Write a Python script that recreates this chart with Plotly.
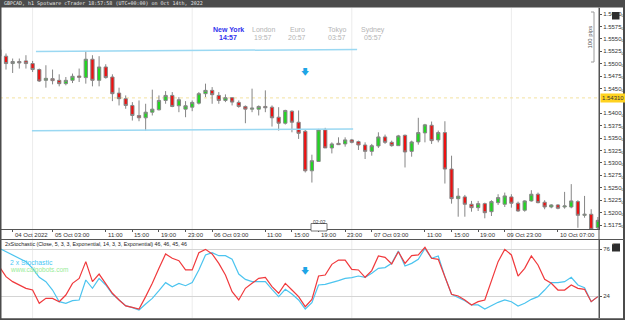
import plotly.graph_objects as go

# ---------------- data (hourly bars, weekend gap removed; bar -1 is cut at left edge)
bars = list(range(-1, 90))
opens = [1.55281, 1.55150, 1.55002, 1.55043, 1.55055, 1.55002, 1.54881, 1.54664, 1.54698, 1.54664, 1.54597,
         1.54664, 1.54751, 1.54719, 1.55089, 1.54664, 1.54933, 1.54731, 1.54407, 1.54294, 1.54158,
         1.53956, 1.53909, 1.54022, 1.54071, 1.54259, 1.54360, 1.54152, 1.54083, 1.54123, 1.54204,
         1.54395, 1.54462, 1.54360, 1.54259, 1.54314, 1.54219, 1.54138, 1.54083, 1.54083, 1.54138,
         1.54123, 1.53921, 1.53800, 1.54043, 1.53820, 1.53638, 1.52842, 1.53030, 1.53666, 1.53302,
         1.53395, 1.53383, 1.53464, 1.53429, 1.53362, 1.53233, 1.53342, 1.53524, 1.53415, 1.53348,
         1.53557, 1.53233, 1.53423, 1.53605, 1.53759, 1.53464, 1.53611, 1.52877, 1.52281, 1.52316,
         1.52168, 1.52099, 1.52180, 1.52018, 1.52200, 1.52168, 1.52316, 1.52188, 1.52047, 1.52235,
         1.52370, 1.52209, 1.52113, 1.52154, 1.52113, 1.52113, 1.52221, 1.51945, 1.51966, 1.51694]
highs = [1.55332, 1.55204, 1.55103, 1.55103, 1.55170, 1.55055, 1.54901, 1.54968, 1.54881, 1.54785, 1.54731,
         1.54800, 1.54901, 1.55251, 1.55170, 1.55150, 1.54988, 1.54785, 1.54516, 1.54360, 1.54225,
         1.54259, 1.54192, 1.54476, 1.54360, 1.54447, 1.54427, 1.54326, 1.54245, 1.54259, 1.54427,
         1.54597, 1.54528, 1.54427, 1.54381, 1.54326, 1.54259, 1.54158, 1.54496, 1.54158, 1.54462,
         1.54158, 1.54123, 1.54071, 1.54057, 1.54057, 1.53666, 1.53166, 1.53686, 1.53707, 1.53415,
         1.53516, 1.53516, 1.53484, 1.53449, 1.53415, 1.53383, 1.53617, 1.53571, 1.53449, 1.53565,
         1.53571, 1.53449, 1.53909, 1.53787, 1.53834, 1.53652, 1.53840, 1.53146, 1.52492, 1.52356,
         1.52235, 1.52235, 1.52200, 1.52249, 1.52370, 1.52403, 1.52370, 1.52221, 1.52249, 1.52451,
         1.52403, 1.52249, 1.52168, 1.52168, 1.52417, 1.52573, 1.52249, 1.52336, 1.52067, 1.51911]
lows = [1.55110, 1.54881, 1.54812, 1.54901, 1.54901, 1.54832, 1.54630, 1.54516, 1.54583, 1.54543, 1.54563,
        1.54609, 1.54630, 1.54597, 1.54543, 1.54543, 1.54698, 1.54245, 1.54158, 1.54091, 1.53854,
        1.53840, 1.53652, 1.53956, 1.54057, 1.54192, 1.54123, 1.54022, 1.53921, 1.54043, 1.54178,
        1.54326, 1.54192, 1.54192, 1.54225, 1.54158, 1.54111, 1.53800, 1.54022, 1.53956, 1.54022,
        1.53733, 1.53652, 1.53773, 1.53617, 1.53484, 1.52808, 1.52605, 1.53030, 1.53302, 1.53192,
        1.53368, 1.53328, 1.53395, 1.53261, 1.53079, 1.53146, 1.53302, 1.53383, 1.53328, 1.53342,
        1.52909, 1.53126, 1.53368, 1.53415, 1.53383, 1.53415, 1.52585, 1.52180, 1.51917, 1.51917,
        1.52018, 1.52032, 1.51885, 1.51931, 1.52154, 1.52113, 1.52099, 1.52018, 1.52018, 1.52221,
        1.52188, 1.52067, 1.52087, 1.52067, 1.52079, 1.52087, 1.51694, 1.51897, 1.51628, 1.51648]
closes = [1.55150, 1.55002, 1.55043, 1.55014, 1.55002, 1.54881, 1.54650, 1.54704, 1.54658, 1.54597, 1.54664,
          1.54745, 1.54725, 1.55089, 1.54664, 1.54933, 1.54719, 1.54395, 1.54294, 1.54158, 1.53956,
          1.53909, 1.54022, 1.54083, 1.54259, 1.54360, 1.54138, 1.54273, 1.54152, 1.54219, 1.54395,
          1.54462, 1.54375, 1.54259, 1.54314, 1.54225, 1.54138, 1.54083, 1.54103, 1.54138, 1.54111,
          1.53909, 1.53800, 1.54057, 1.53820, 1.53597, 1.52842, 1.53045, 1.53666, 1.53302, 1.53383,
          1.53368, 1.53464, 1.53415, 1.53362, 1.53233, 1.53348, 1.53524, 1.53415, 1.53348, 1.53545,
          1.53221, 1.53423, 1.53611, 1.53767, 1.53449, 1.53611, 1.52877, 1.52281, 1.52330, 1.52168,
          1.52099, 1.52180, 1.51998, 1.52221, 1.52302, 1.52336, 1.52188, 1.52032, 1.52235, 1.52370,
          1.52200, 1.52113, 1.52154, 1.52087, 1.52134, 1.52235, 1.51945, 1.51966, 1.51662, 1.51844]

stoch_fast = [56.5, 45.4, 39.9, 36.2, 32.5, 30.6, 15.9, 21.4, 21.4, 17.7, 25.1, 38.0, 43.5, 62.0, 39.9, 48.3,
              38.0, 27.0, 19.6, 13.0, 11.5, 9.6, 23.3, 38.0, 54.6, 70.5, 65.7, 63.1, 52.8, 52.8, 71.9,
              75.6, 70.5, 60.1, 47.2, 28.8, 19.6, 32.5, 38.0, 43.5, 44.7, 34.3, 27.0, 38.0, 30.6, 23.3,
              12.2, 20.3, 46.1, 47.2, 59.0, 63.8, 63.8, 53.5, 52.8, 44.7, 52.1, 68.3, 66.8, 59.4, 73.0,
              60.1, 68.6, 69.4, 77.8, 65.7, 64.6, 45.4, 25.9, 24.0, 19.6, 14.1, 17.7, 19.6, 39.9, 62.0,
              75.6, 69.4, 46.1, 54.6, 68.3, 58.3, 42.4, 38.0, 30.6, 30.6, 36.2, 32.5, 31.4, 17.7, 23.3]
stoch_slow = [76.7, 73.0, 69.4, 65.7, 62.0, 54.6, 44.7, 39.9, 30.6, 17.7, 15.9, 18.8, 19.6, 41.7, 32.5, 43.5,
              36.2, 26.2, 19.6, 13.3, 11.1, 8.5, 15.2, 21.4, 29.9, 38.8, 34.3, 38.0, 35.4, 38.8, 52.8,
              69.4, 71.9, 68.6, 68.6, 64.6, 48.3, 42.4, 39.9, 39.9, 39.9, 31.4, 23.3, 31.4, 26.2, 19.6,
              9.6, 16.6, 36.2, 36.9, 38.8, 41.0, 43.5, 44.3, 46.1, 44.7, 49.1, 54.6, 55.4, 60.1, 73.8,
              57.2, 60.1, 64.6, 76.7, 65.7, 68.3, 45.4, 25.9, 22.5, 18.8, 14.1, 14.1, 9.6, 13.3, 17.0,
              19.6, 17.7, 12.9, 15.9, 20.3, 23.3, 30.6, 38.8, 38.8, 39.9, 44.7, 36.2, 33.2, 17.7, 23.3]

tick_bars = [1, 7, 15, 19, 23, 27, 31, 39, 43, 47, 51, 55, 63, 67, 71, 75, 83]
tick_labels = ["04 Oct 2022", "05 Oct 03:00", "11:00", "15:00", "19:00", "23:00", "06 Oct 03:00",
               "11:00", "15:00", "19:00", "23:00", "07 Oct 03:00", "11:00", "15:00", "19:00",
               "09 Oct 23:00", "10 Oct 07:00"]
day_sep_bars = [4, 28, 52, 76]
# 1.5425 sits behind the current-price label in the reference
price_ticks = [1.5175, 1.5200, 1.5225, 1.5250, 1.5275, 1.5300, 1.5325, 1.5350, 1.5375, 1.5400,
               1.5450, 1.5475, 1.5500, 1.5525, 1.5550, 1.5575, 1.5600]
stoch_levels = [24, 76]
current_price = 1.54310
session_high_x = [4.5, 52.8]
session_high_y = [1.55245, 1.55285]
session_low_x = [3.9, 52.2]
session_low_y = [1.53646, 1.53686]
signal_bar = [45]
signal_price = [1.54806]
signal_stoch = [50.9]
sessions = ["New York", "London", "Euro", "Tokyo", "Sydney"]
session_times = ["14:57", "19:57", "20:57", "03:57", "05:57"]

# ---------------- layout helpers (pixel -> paper)
W, H = 625, 320
ML, MR, MT, MB = 0, 26, 8, 2
PW, PH = W - ML - MR, H - MT - MB


def px(x):
    return (x - ML) / PW


def py(y):
    return (H - MB - y) / PH


FONT = "Liberation Sans"
GRID = "#555555"

fig = go.Figure()

fig.add_trace(go.Candlestick(
    x=bars, open=opens, high=highs, low=lows, close=closes,
    increasing=dict(fillcolor="#1fd81f", line=dict(color="#868686", width=1)),
    decreasing=dict(fillcolor="#ee1111", line=dict(color="#868686", width=1)),
    whiskerwidth=0, hoverinfo="skip", xaxis="x", yaxis="y", showlegend=False))

for sx, sy in ((session_high_x, session_high_y), (session_low_x, session_low_y)):
    fig.add_trace(go.Scatter(x=sx, y=sy, mode="lines", line=dict(color="#9ad8f2", width=1.5),
                             hoverinfo="skip", showlegend=False, xaxis="x", yaxis="y"))

fig.add_trace(go.Scatter(x=bars, y=stoch_slow, mode="lines", line=dict(color="#4cc4ef", width=1.2),
                         hoverinfo="skip", showlegend=False, xaxis="x2", yaxis="y2"))
fig.add_trace(go.Scatter(x=bars, y=stoch_fast, mode="lines", line=dict(color="#f0393c", width=1.2),
                         hoverinfo="skip", showlegend=False, xaxis="x2", yaxis="y2"))

fig.add_trace(go.Scatter(x=signal_bar, y=signal_price, mode="text", text=["🡇"],
                         textfont=dict(size=8, color="#1ea5e6", family="DejaVu Sans"),
                         hoverinfo="skip", showlegend=False, xaxis="x", yaxis="y"))
fig.add_trace(go.Scatter(x=signal_bar, y=signal_stoch, mode="text", text=["🡇"],
                         textfont=dict(size=8, color="#1ea5e6", family="DejaVu Sans"),
                         hoverinfo="skip", showlegend=False, xaxis="x2", yaxis="y2"))

xr = [(0 - 6) / 6.65, (599 - 6) / 6.65]
main_dom = [py(229), 1]
low_dom = [0, py(240)]


def lin(a_px, b_px, va, vb, p):
    return va + (vb - va) * (p - a_px) / (b_px - a_px)


yr_main = [lin(14, 225, 1.5600, 1.5175, 229), lin(14, 225, 1.5600, 1.5175, 8)]
yr_low = [lin(249, 296, 76, 24, 318), lin(249, 296, 76, 24, 240)]

fig.update_layout(
    width=W, height=H, margin=dict(l=ML, r=MR, t=MT, b=MB),
    paper_bgcolor="white", plot_bgcolor="white",
    font=dict(family=FONT, size=6, color="#333333"),
    boxgap=0.3,
    xaxis=dict(domain=[0, 1], range=xr, rangeslider=dict(visible=False), anchor="y",
               tickvals=tick_bars, showticklabels=False, ticks="outside", ticklen=2,
               tickcolor=GRID, showline=True, linecolor=GRID, linewidth=1,
               showgrid=False, zeroline=False),
    xaxis2=dict(domain=[0, 1], range=xr, anchor="y2", matches="x", showticklabels=False,
                ticks="", showgrid=False, zeroline=False, showline=False),
    yaxis=dict(domain=main_dom, range=yr_main, side="right", anchor="x",
               tickvals=price_ticks, ticktext=[f"{v:.4f}<sub>0</sub>" for v in price_ticks],
               ticks="outside", ticklen=2, tickcolor=GRID, tickfont=dict(size=6, color="#333"),
               showgrid=False, zeroline=False, showline=True, linecolor=GRID),
    yaxis2=dict(domain=low_dom, range=yr_low, side="right", anchor="x2",
                tickvals=stoch_levels, ticktext=[str(v) for v in stoch_levels],
                ticks="outside", ticklen=2, tickcolor=GRID, tickfont=dict(size=6, color="#333"),
                showgrid=True, gridcolor="#d4d4d4", gridwidth=1, zeroline=False,
                showline=True, linecolor=GRID),
)

shapes = []
for b in day_sep_bars:
    shapes.append(dict(type="line", xref="x", yref="paper", x0=b, x1=b, y0=0, y1=1,
                       line=dict(color="#ececec", width=1), layer="below"))
shapes.append(dict(type="line", xref="paper", yref="y", x0=0, x1=1, y0=current_price, y1=current_price,
                   line=dict(color="#f3e2a0", width=1, dash="dot"), layer="below"))
DARK = "#4b4b4b"
shapes += [
    dict(type="rect", xref="paper", yref="paper", x0=px(0), x1=px(W), y0=py(7.5), y1=py(0),
         fillcolor=DARK, line=dict(width=0)),
    dict(type="rect", xref="paper", yref="paper", x0=px(0), x1=px(1.5), y0=py(H), y1=py(0),
         fillcolor=DARK, line=dict(width=0)),
    dict(type="rect", xref="paper", yref="paper", x0=px(623), x1=px(W), y0=py(H), y1=py(0),
         fillcolor=DARK, line=dict(width=0)),
    dict(type="rect", xref="paper", yref="paper", x0=px(0), x1=px(W), y0=py(H), y1=py(318.3),
         fillcolor=DARK, line=dict(width=0)),
    dict(type="line", xref="paper", yref="paper", x0=px(0), x1=px(W), y0=py(239.5), y1=py(239.5),
         line=dict(color=GRID, width=1)),
    dict(type="line", xref="paper", yref="paper", x0=1, x1=1, y0=py(318), y1=py(7.5),
         line=dict(color=GRID, width=1)),
    dict(type="path", xref="paper", yref="paper",
         path=f"M {px(591)},{py(12)} L {px(594)},{py(12)} L {px(594)},{py(62)} L {px(591)},{py(62)}",
         line=dict(color="#9a9a9a", width=1)),
    dict(type="rect", xref="paper", yref="paper", x0=px(612), x1=px(619.5), y0=py(19.5), y1=py(12),
         fillcolor="#2e2e2e", line=dict(width=0)),
    dict(type="rect", xref="paper", yref="paper", x0=px(612), x1=px(620), y0=py(251.5), y1=py(243.5),
         fillcolor="#2e2e2e", line=dict(width=0)),
    dict(type="rect", xref="paper", yref="paper", x0=px(311), x1=px(327), y0=py(231), y1=py(223.5),
         fillcolor="white", line=dict(color="#555", width=0.8)),
]
fig.update_layout(shapes=shapes)

ann = []
ann.append(dict(xref="paper", yref="paper", x=px(2), y=py(4), xanchor="left", yanchor="middle",
                text="GBPCAD, h1 Spotware cTrader 18:57:58 (UTC+00:00) on Oct 14th, 2022",
                showarrow=False, font=dict(size=5.0, color="#e6e6e6", family="DejaVu Sans Mono")))
sess_x = [228, 263, 297, 337, 373]
for i, (s, t) in enumerate(zip(sessions, session_times)):
    col = "#3232ee" if i == 0 else "#b4b4b4"
    txt_s = f"<b>{s}</b>" if i == 0 else s
    txt_t = f"<b>{t}</b>" if i == 0 else t
    ann.append(dict(xref="paper", yref="paper", x=px(sess_x[i]), y=py(30), text=txt_s, showarrow=False,
                    xanchor="center", yanchor="middle", font=dict(size=7, color=col)))
    ann.append(dict(xref="paper", yref="paper", x=px(sess_x[i]), y=py(37.5), text=txt_t, showarrow=False,
                    xanchor="center", yanchor="middle", font=dict(size=7, color=col)))
for b, lab in zip(tick_bars, tick_labels):
    ann.append(dict(xref="x", yref="paper", x=b, y=py(234.5), text=lab, showarrow=False,
                    xanchor="left", yanchor="middle", font=dict(size=6, color="#333")))
ann.append(dict(xref="paper", yref="y", x=1, y=current_price, text="1.54310", showarrow=False,
                xanchor="left", yanchor="middle", xshift=1, bgcolor="#ffd21f", borderpad=1,
                font=dict(size=6, color="#333")))
ann.append(dict(xref="paper", yref="paper", x=px(589.5), y=py(37), text="100 pips", textangle=-90,
                showarrow=False, xanchor="center", yanchor="middle", font=dict(size=6, color="#555")))
ann.append(dict(xref="paper", yref="paper", x=px(615.8), y=py(15.8), text="✎", showarrow=False,
                font=dict(size=6, color="white", family="DejaVu Sans")))
ann.append(dict(xref="paper", yref="paper", x=px(616), y=py(247.5), text="✕", showarrow=False,
                font=dict(size=6, color="white", family="DejaVu Sans")))
ann.append(dict(xref="paper", yref="paper", x=px(319), y=py(227.3), text="02:02", showarrow=False,
                font=dict(size=5, color="#333")))
ann.append(dict(xref="paper", yref="paper", x=px(3), y=py(244), xanchor="left", yanchor="middle",
                text="2xStochastic (Close, 5, 3, 3, Exponential, 14, 3, 3, Exponential) 46, 46, 45, 46",
                showarrow=False, font=dict(size=5.3, color="#222")))
ann.append(dict(xref="paper", yref="paper", x=px(8), y=py(262), xanchor="left", yanchor="middle",
                text="2 x Stochastic", showarrow=False, font=dict(size=6.8, color="#48c8f4")))
ann.append(dict(xref="paper", yref="paper", x=px(8), y=py(269.5), xanchor="left", yanchor="middle",
                text="www.calgobots.com", showarrow=False, font=dict(size=6.5, color="#98ec98")))
fig.update_layout(annotations=ann)

fig.write_html("out.html")
